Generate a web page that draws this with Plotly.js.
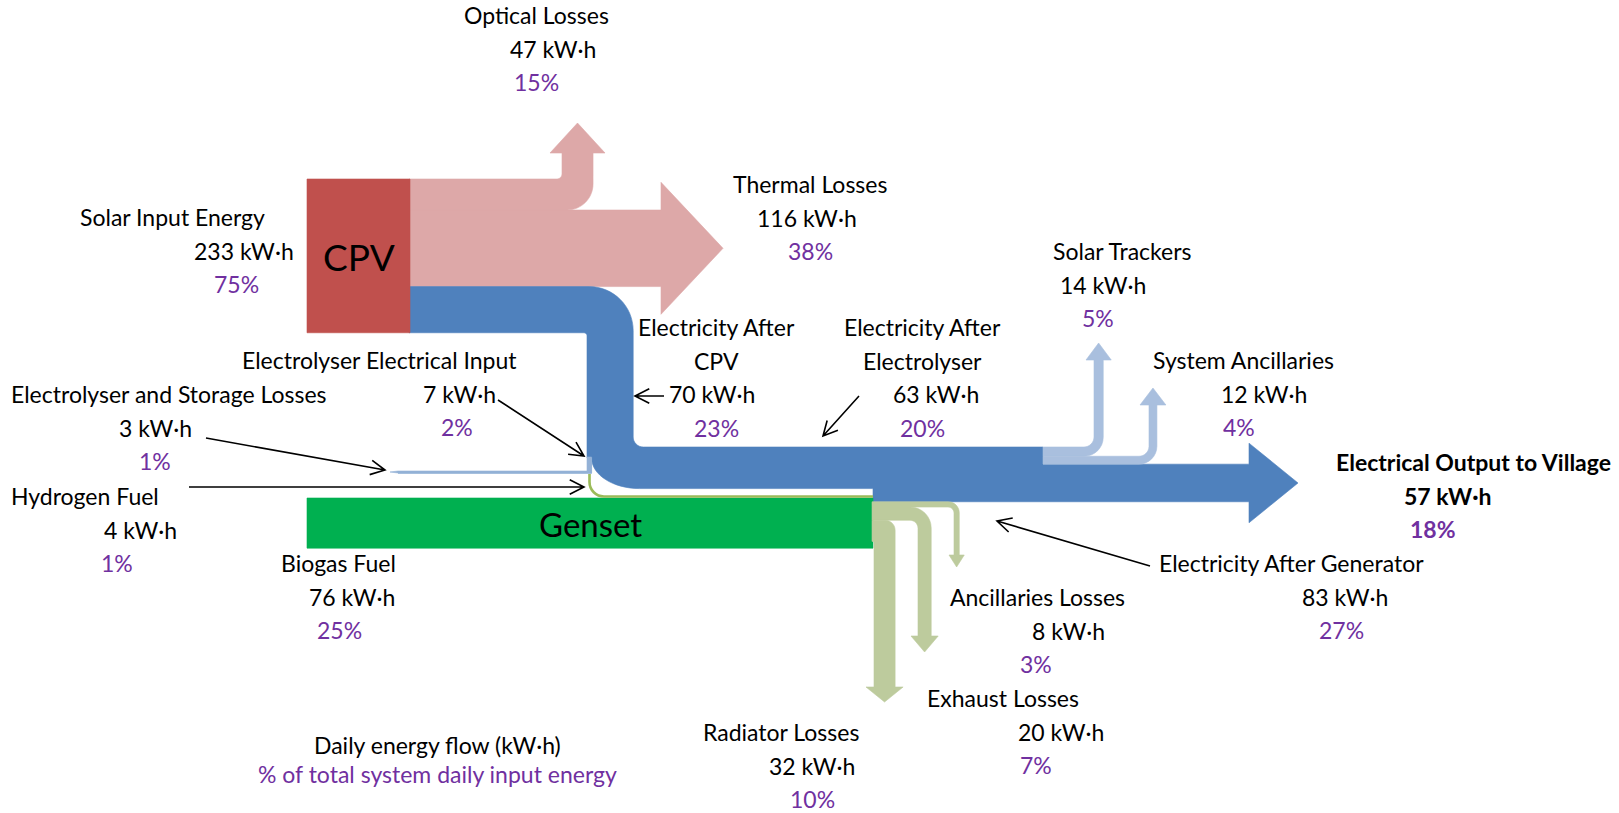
<!DOCTYPE html>
<html>
<head>
<meta charset="utf-8">
<script src="https://cdn.plot.ly/plotly-3.0.1.min.js"></script>
<style>html,body{margin:0;padding:0;background:#fff;overflow:hidden}</style>
</head>
<body>
<div id="chart" style="width:1619px;height:813px"></div>
<script>
// ---------------- DATA ----------------
const flowNames = [
  'Solar Input Energy','Optical Losses','Thermal Losses','Electricity After CPV',
  'Electrolyser Electrical Input','Electrolyser and Storage Losses','Hydrogen Fuel',
  'Electricity After Electrolyser','Biogas Fuel','Radiator Losses','Exhaust Losses',
  'Ancillaries Losses','Electricity After Generator','Solar Trackers',
  'System Ancillaries','Electrical Output to Village'
];
const flowKWh = [233,47,116,70,7,3,4,63,76,32,20,8,83,14,12,57];
const flowPct = [75,15,38,23,2,1,1,20,25,10,7,3,27,5,4,18];
const nodeNames = ['CPV','Genset'];
const legendLines = ['Daily energy flow (kW\u00b7h)','% of total system daily input energy'];

// ---------------- HELPERS ----------------
const W = 1619, H = 813, K = 0.66;          // K: pixels per kW·h for band widths
const idx = n => flowNames.indexOf(n);
const v = n => flowKWh[idx(n)];
const wd = n => v(n) * K;
const f = n => Math.round(n * 100) / 100;
const M = (x, y) => `M ${f(x)} ${f(y)}`;
const L = (x, y) => ` L ${f(x)} ${f(y)}`;
const BZ = 0.5523;
function corner(p0, c, p1) {
  return ` C ${f(p0[0] + (c[0] - p0[0]) * BZ)} ${f(p0[1] + (c[1] - p0[1]) * BZ)} ` +
         `${f(p1[0] + (c[0] - p1[0]) * BZ)} ${f(p1[1] + (c[1] - p1[1]) * BZ)} ${f(p1[0])} ${f(p1[1])}`;
}
function turnUp(x0, yT, w, xs, rIn, rOut, yHead, hOut, hLen) {
  const yB = yT + w, xR = xs + w;
  return M(x0, yT) + L(xs - rIn, yT) + corner([xs - rIn, yT], [xs, yT], [xs, yT - rIn]) +
    L(xs, yHead) + L(xs - hOut, yHead) + L(xs + w / 2, yHead - hLen) + L(xR + hOut, yHead) +
    L(xR, yHead) + L(xR, yB - rOut) + corner([xR, yB - rOut], [xR, yB], [xR - rOut, yB]) +
    L(x0, yB) + ' Z';
}
function turnDown(x0, yT, w, xs, rIn, rOut, yHead, hOut, hLen) {
  const yB = yT + w, xR = xs + w;
  return M(x0, yT) + L(xR - rOut, yT) + corner([xR - rOut, yT], [xR, yT], [xR, yT + rOut]) +
    L(xR, yHead) + L(xR + hOut, yHead) + L(xs + w / 2, yHead + hLen) + L(xs - hOut, yHead) +
    L(xs, yHead) + L(xs, yB + rIn) + corner([xs, yB + rIn], [xs, yB], [xs - rIn, yB]) +
    L(x0, yB) + ' Z';
}
const shapes = [];
function fillShape(path, color) {
  shapes.push({type:'path', xref:'x', yref:'y', path, fillcolor:color, line:{color:color, width:0.6}});
}
function strokeShape(path, color, width) {
  shapes.push({type:'path', xref:'x', yref:'y', path, fillcolor:'rgba(0,0,0,0)', line:{color:color, width:width}});
}
function pointer(x1, y1, x2, y2) {
  const a = Math.atan2(y2 - y1, x2 - x1), hl = 16, s = 0.47;
  const p = M(x1, y1) + L(x2, y2) + ' ' +
    M(x2 - hl * Math.cos(a - s), y2 - hl * Math.sin(a - s)) + L(x2, y2) +
    L(x2 - hl * Math.cos(a + s), y2 - hl * Math.sin(a + s));
  strokeShape(p, '#000', 1.6);
}

// ---------------- COLOURS ----------------
const C_RED = '#C0504D', C_PINK = '#DDA8A8', C_BLUE = '#4F81BD', C_LBLUE = '#A9BFDE',
      C_STRIP = '#93B1D6', C_GEN = '#00B050', C_GLOSS = '#BDCB9D', C_H2 = '#9BBB59',
      C_PURPLE = '#7030A0';

// ---------------- GEOMETRY ----------------
const cpvX0 = 307, cpvX1 = 410, cpvTop = 179;
const cpvBot = cpvTop + wd('Solar Input Energy');
const optBot = cpvTop + wd('Optical Losses');
const thBot = optBot + wd('Thermal Losses');
const blueTop = thBot, blueBot = blueTop + wd('Electricity After CPV');
const xL = 587, xR = xL + wd('Electricity After CPV');
const xM = xL + wd('Electrolyser Electrical Input');
const HT = 447, HB = HT + wd('Electricity After Electrolyser');
const genJ = 873, genTop = 498, genBot = genTop + wd('Biogas Fuel');
const GB = HT + wd('Electricity After Generator');
const lbEnd = 1043;
const trW = wd('Solar Trackers'), saW = wd('System Ancillaries');
const outTop = HT + trW + saW, outBot = outTop + wd('Electrical Output to Village');

// thermal losses arrow
const thMid = (optBot + thBot) / 2;
fillShape(M(cpvX1 - 1, optBot) + L(661, optBot) + L(661, thMid - 66) + L(723, thMid) +
  L(661, thMid + 66) + L(661, thBot) + L(cpvX1 - 1, thBot) + ' Z', C_PINK);
// optical losses
fillShape(turnUp(cpvX1 - 1, cpvTop, wd('Optical Losses'), 562, 5, 26, 153, 12, 30), C_PINK);

// main electricity band
const outMid = (outTop + outBot) / 2;
fillShape(
  M(cpvX1 - 1, blueTop) + L(xR - 44, blueTop) + corner([xR - 44, blueTop], [xR, blueTop], [xR, blueTop + 44]) +
  L(xR, HT - 10) + corner([xR, HT - 10], [xR, HT], [xR + 10, HT]) +
  L(lbEnd, HT) + L(lbEnd, outTop) + L(1249, outTop) + L(1249, outTop - 21) + L(1298, outMid) +
  L(1249, outBot + 21) + L(1249, outBot) + L(genJ, outBot) + L(genJ, HB) +
  L(xM + 48, HB) + corner([xM + 48, HB], [xM, HB], [xM, 458]) + L(xL, 458) +
  L(xL, blueBot + 3) + corner([xL, blueBot + 3], [xL, blueBot], [xL - 3, blueBot]) +
  L(cpvX1 - 1, blueBot) + ' Z', C_BLUE);

// electrolyser strip and its losses
const eY = 472, eT = wd('Electrolyser and Storage Losses');
fillShape(M(xL, 457) + L(xM, 457) + L(xM, eY + eT / 2) + L(398, eY + eT / 2) + L(390, eY) +
  L(398, eY - eT / 2) + L(xL, eY - eT / 2) + ' Z', C_STRIP);
strokeShape(M(xM - 0.5, 458) + L(xM - 0.5, eY + eT / 2) + L(398, eY + eT / 2), C_STRIP, 1.4);

// boxes
fillShape(M(cpvX0, cpvTop) + L(cpvX1, cpvTop) + L(cpvX1, cpvBot) + L(cpvX0, cpvBot) + ' Z', C_RED);
fillShape(M(cpvX0, genTop) + L(genJ, genTop) + L(genJ, genBot) + L(cpvX0, genBot) + ' Z', C_GEN);

// hydrogen fuel line
const h2w = wd('Hydrogen Fuel');
strokeShape(M(xL + 2.5, eY + 2) + L(xL + 2.5, 482) + corner([xL + 2.5, 482], [xL + 2.5, 496.5], [xL + 17, 496.5]) +
  L(genJ, 496.5), C_H2, h2w);

// genset losses
const ancW = wd('Ancillaries Losses'), exhW = wd('Exhaust Losses'), radW = wd('Radiator Losses');
fillShape(turnDown(genJ - 1, GB + ancW + exhW, radW, genJ + 1, 0, 10, 687, 8, 15), C_GLOSS);
fillShape(turnDown(genJ - 1, GB + ancW, exhW, 918, 8, 21, 636, 7, 16), C_GLOSS);
fillShape(turnDown(genJ - 1, GB, ancW, 954, 6, 11, 555, 5, 12), C_GLOSS);

// trackers / ancillaries
fillShape(turnUp(lbEnd, HT, trW, 1094, 10, 19, 360, 8, 17), C_LBLUE);
fillShape(turnUp(lbEnd, HT + trW, saW, 1149, 10, 18, 405, 9, 17), C_LBLUE);

// black pointers
pointer(498, 400, 584, 456);
pointer(206, 438, 385, 470);
pointer(189, 487, 584, 487);
pointer(664, 396, 635, 396);
pointer(859, 396, 823, 436);
pointer(1150, 566, 997, 521);

// ---------------- TEXT ----------------
const FONT = 'Lato, "Open Sans", sans-serif';
const annotations = [];
function txt(x, y, text, color, size, anchor) {
  annotations.push({x, y, xref:'x', yref:'y', text, showarrow:false,
    xanchor: anchor || 'center', yanchor:'middle',
    font:{family:FONT, size:size || 23, color:color || '#000'}});
}
const labelPos = {
  'Optical Losses': {y:15, xs:[536,553,536]},
  'Solar Input Energy': {y:217, xs:[172,244,236]},
  'Thermal Losses': {y:184, xs:[810,807,810]},
  'Solar Trackers': {y:251, xs:[1122,1103,1098]},
  'Electricity After CPV': {y:327, xs:[716,716,712,716], split:['Electricity After','CPV']},
  'Electricity After Electrolyser': {y:327, xs:[922,922,936,922], split:['Electricity After','Electrolyser']},
  'System Ancillaries': {y:360, xs:[1243,1264,1239]},
  'Electrolyser Electrical Input': {y:360, xs:[379,459,457]},
  'Electrolyser and Storage Losses': {y:394, xs:[169,155,155]},
  'Hydrogen Fuel': {y:496, xs:[85,140,117]},
  'Electrical Output to Village': {y:462, xs:[1473,1447,1433], bold:true},
  'Electricity After Generator': {y:563, xs:[1291,1345,1341]},
  'Biogas Fuel': {y:563, xs:[338,352,339]},
  'Ancillaries Losses': {y:597, xs:[1037,1068,1036]},
  'Exhaust Losses': {y:698, xs:[1003,1061,1036]},
  'Radiator Losses': {y:732, xs:[781,812,812]}
};
const LS = 33.5;
flowNames.forEach((name, i) => {
  const p = labelPos[name];
  const lines = (p.split || [name]).concat([`${flowKWh[i]} kW\u00b7h`, `${flowPct[i]}%`]);
  lines.forEach((t, j) => {
    const isPct = j === lines.length - 1;
    const text = p.bold ? `<b>${t}</b>` : t;
    txt(p.xs[j], p.y + j * LS, text, isPct ? C_PURPLE : '#000', 23);
  });
});
txt((cpvX0 + cpvX1) / 2, 256, nodeNames[0], '#000', 37);
txt(590, 524, nodeNames[1], '#000', 33);
txt(437, 745, legendLines[0], '#000', 23);
txt(437, 774, legendLines[1], C_PURPLE, 23);

const data = [{x:[0, W], y:[0, H], mode:'markers', marker:{opacity:0}, hoverinfo:'skip', showlegend:false}];
const layout = {
  width:W, height:H, margin:{l:0, r:0, t:0, b:0, pad:0},
  xaxis:{range:[0, W], visible:false, fixedrange:true},
  yaxis:{range:[H, 0], visible:false, fixedrange:true},
  showlegend:false, plot_bgcolor:'#fff', paper_bgcolor:'#fff',
  shapes, annotations
};
Plotly.newPlot('chart', data, layout, {staticPlot:true, displayModeBar:false});
</script>
</body>
</html>
